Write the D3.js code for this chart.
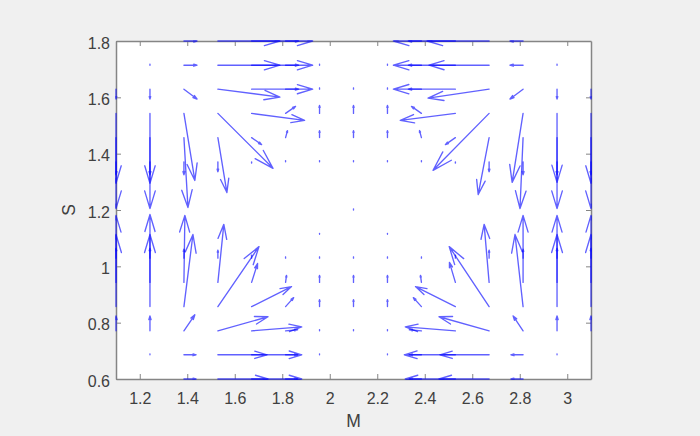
<!DOCTYPE html>
<html><head><meta charset="utf-8">
<script src="https://cdn.jsdelivr.net/npm/d3@7"></script>
<style>
html,body{margin:0;padding:0;background:#f0f0f0;}
svg{display:block;}
text{font-family:"Liberation Sans",Arial,sans-serif;}
</style></head><body>
<svg id="chart" width="700" height="436"></svg>
<script>
// grid of the quiver plot (M along x, S along y)
const xGrid = [1.1, 1.243, 1.386, 1.529, 1.671, 1.814, 1.957, 2.1, 2.243, 2.386, 2.529, 2.671, 2.814, 2.957, 3.1];
const yGrid = [0.6, 0.686, 0.771, 0.857, 0.943, 1.029, 1.114, 1.2, 1.286, 1.371, 1.457, 1.543, 1.629, 1.714, 1.8];
// U[j][i], V[j][i]: vector components at (xGrid[i], yGrid[j]) in data units
const U = [
  [0,0,.051,.211,.211,.051,0,0,0,-.051,-.211,-.211,-.051,0,0],
  [0,0,.051,.207,.211,.051,0,0,0,-.051,-.215,-.207,-.051,0,0],
  [0,0,.046,.211,.211,.051,0,0,0,-.051,-.211,-.211,-.042,0,0],
  [0,0,.038,.173,.168,.034,0,0,0,-.034,-.168,-.168,-.034,0,0],
  [0,0,.004,.025,.025,.004,0,0,0,-.004,-.025,-.021,0,0,0],
  [0,0,0,0,0,0,0,0,0,0,0,0,0,0,0],
  [0,0,0,0,0,0,0,0,0,0,0,0,0,0,0],
  [0,0,0,0,0,0,0,0,0,0,0,0,0,0,0],
  [0,0,0,0,0,0,0,0,0,0,0,0,0,0,0],
  [0,0,0,0,0,0,0,0,0,0,0,0,0,0,0],
  [0,0,.017,.038,.042,.008,0,0,0,-.008,-.042,-.046,-.013,0,0],
  [0,0,.046,.232,.223,.042,0,0,0,-.042,-.232,-.236,-.046,0,0],
  [0,0,.055,.261,.257,.055,0,0,0,-.055,-.261,-.257,-.055,0,0],
  [0,0,.055,.261,.257,.055,0,0,0,-.055,-.261,-.253,-.055,0,0],
  [0,0,.055,.261,.257,.055,0,0,0,-.055,-.261,-.261,-.055,0,0]
];
const V = [
  [0,0,0,0,0,0,0,0,0,0,0,0,0,0,0],
  [0,.003,0,0,0,0,.003,0,.003,0,0,0,0,.003,0],
  [.053,.053,.057,.050,.014,.004,.004,.004,.004,.004,.014,.050,.053,.053,.053],
  [.256,.256,.256,.213,.071,.032,.025,.025,.025,.032,.071,.213,.256,.256,.256],
  [.238,.241,.238,.206,.067,.025,.025,.025,.025,.025,.071,.206,.238,.238,.238],
  [.035,.035,.032,.028,.011,.004,.004,.004,.004,.004,.011,.028,.032,.035,.035],
  [0,0,0,0,0,0,.003,0,.003,0,0,0,0,0,0],
  [0,0,0,0,0,0,0,.004,0,0,0,0,0,0,0],
  [0,0,0,0,0,0,0,0,0,0,0,0,0,0,0],
  [-.046,-.046,-.046,-.035,-.004,.004,.004,.004,.004,.004,-.004,-.035,-.046,-.046,-.046],
  [-.252,-.252,-.248,-.195,-.025,.025,.025,.025,.025,.025,-.025,-.202,-.252,-.252,-.252],
  [-.248,-.248,-.238,-.195,-.025,.025,.028,.028,.028,.025,-.025,-.202,-.245,-.245,-.248],
  [-.035,-.035,-.035,-.028,0,0,.004,.004,.004,0,0,-.032,-.035,-.035,-.035],
  [0,.004,0,0,0,0,.004,0,.004,0,0,0,0,.004,0],
  [0,0,0,0,0,0,0,0,0,0,0,0,0,0,0]
];
const xTicks = [1.2, 1.4, 1.6, 1.8, 2.0, 2.2, 2.4, 2.6, 2.8, 3.0];
const xTickLabels = ["1.2","1.4","1.6","1.8","2","2.2","2.4","2.6","2.8","3"];
const yTicks = [0.6, 0.8, 1.0, 1.2, 1.4, 1.6, 1.8];
const yTickLabels = ["0.6","0.8","1","1.2","1.4","1.6","1.8"];
const xLabel = "M", yLabel = "S";

const L = 116, R = 591, T = 41, B = 379;
const svg = d3.select("#chart");
svg.append("rect").attr("width",700).attr("height",436).attr("fill","#f0f0f0");
const x = d3.scaleLinear().domain([1.1, 3.1]).range([L, R]);
const y = d3.scaleLinear().domain([0.6, 1.8]).range([B, T]);

svg.append("rect").attr("x",L).attr("y",T).attr("width",R-L).attr("height",B-T).attr("fill","#fff");

svg.append("defs").append("clipPath").attr("id","clip")
  .append("rect").attr("x",L-1).attr("y",T-1).attr("width",R-L+2).attr("height",B-T+2);

const arrows = [];
yGrid.forEach((yv, j) => xGrid.forEach((xv, i) => {
  const u = U[j][i], v = V[j][i];
  if (u !== 0 || v !== 0) arrows.push({x: xv, y: yv, u, v});
}));

// box lines + inward ticks
const axisColor = "#858585";
function styleAxis(g){
  g.select(".domain").attr("stroke", axisColor).attr("stroke-width",1.5);
  g.selectAll(".tick line").attr("stroke", axisColor).attr("stroke-width",1);
  g.selectAll(".tick text").attr("fill","#404040").style("font-size","16px")
   .style("font-family",'"Liberation Sans",Arial,sans-serif');
}
svg.append("g").attr("transform",`translate(0,${B})`)
  .call(d3.axisBottom(x).tickValues(xTicks).tickFormat((d,i)=>xTickLabels[i]).tickSizeInner(-5).tickSizeOuter(0).tickPadding(14))
  .call(styleAxis);
svg.append("g").attr("transform",`translate(0,${T})`)
  .call(d3.axisTop(x).tickValues(xTicks).tickFormat("").tickSizeInner(-5).tickSizeOuter(0))
  .call(styleAxis);
svg.append("g").attr("transform",`translate(${L},0)`)
  .call(d3.axisLeft(y).tickValues(yTicks).tickFormat((d,i)=>yTickLabels[i]).tickSizeInner(-5).tickSizeOuter(0).tickPadding(6))
  .call(styleAxis)
  .selectAll(".tick text").attr("dy","0.45em");
svg.append("g").attr("transform",`translate(${R},0)`)
  .call(d3.axisRight(y).tickValues(yTicks).tickFormat("").tickSizeInner(-5).tickSizeOuter(0))
  .call(styleAxis);

// quiver arrows
const alpha = 0.25, beta = 0.3;
function arrowPath(d){
  const x0 = x(d.x), y0 = y(d.y), x1 = x(d.x + d.u), y1 = y(d.y + d.v);
  const dx = x1 - x0, dy = y1 - y0;
  const a1x = x1 - alpha*(dx + beta*dy), a1y = y1 - alpha*(dy - beta*dx);
  const a2x = x1 - alpha*(dx - beta*dy), a2y = y1 - alpha*(dy + beta*dx);
  return `M${x0},${y0}L${x1},${y1}M${a1x},${a1y}L${x1},${y1}L${a2x},${a2y}`;
}
svg.append("g").attr("clip-path","url(#clip)")
  .selectAll("path").data(arrows).join("path")
  .attr("d", arrowPath)
  .attr("fill","none").attr("stroke","#0000ff").attr("stroke-opacity",0.62)
  .attr("stroke-width",1.35).attr("stroke-linecap","round").attr("stroke-linejoin","round");

svg.append("text").attr("x",(L+R)/2).attr("y",426.5).attr("text-anchor","middle")
  .attr("fill","#404040").style("font-size","17.5px").text(xLabel);
svg.append("text").attr("transform",`translate(75,${(T+B)/2}) rotate(-90)`).attr("text-anchor","middle")
  .attr("fill","#404040").style("font-size","17.5px").text(yLabel);
</script>
</body></html>
